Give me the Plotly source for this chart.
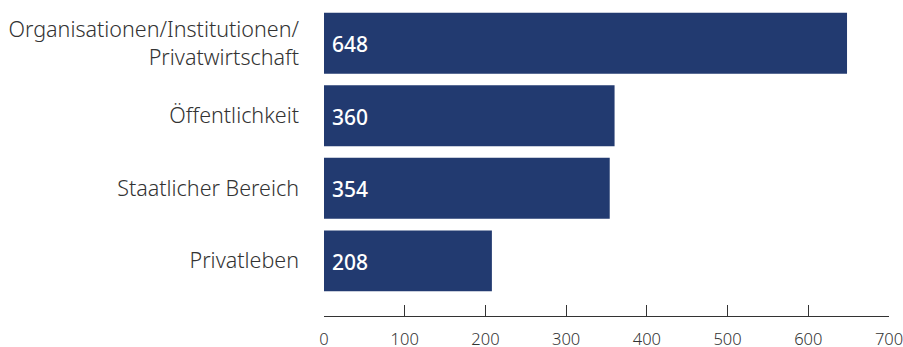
import plotly.graph_objects as go

categories = ["Privatleben", "Staatlicher Bereich", "Öffentlichkeit",
              "Organisationen/Institutionen/<br>Privatwirtschaft"]
values = [208, 354, 360, 648]
tick_vals = [0, 100, 200, 300, 400, 500, 600, 700]
tick_text = ["0", "100", "200", "300", "400", "500", "600", "700"]

bar_color = "#223a70"
text_color = "#333333"
label_font = "'Noto Sans', sans-serif"

fig = go.Figure(go.Bar(
    x=values,
    y=categories,
    orientation="h",
    marker=dict(color=bar_color, line=dict(width=0)),
    hoverinfo="x+y",
))

for cat, val in zip(categories, values):
    fig.add_annotation(
        x=0, y=cat, xref="x", yref="y",
        text=str(val), showarrow=False,
        xanchor="left", yanchor="middle", xshift=6, yshift=-1,
        font=dict(color="white", size=21, family=label_font, weight=500),
    )

fig.update_layout(
    width=903, height=347,
    margin=dict(l=324, r=14, t=7, b=31, autoexpand=False),
    paper_bgcolor="white", plot_bgcolor="white",
    bargap=0.16,
    showlegend=False,
    font=dict(family=label_font, color=text_color),
    xaxis=dict(
        range=[0, 700],
        tickvals=tick_vals, ticktext=tick_text,
        ticks="inside", ticklen=11, tickcolor=text_color, tickwidth=1,
        showline=True, linecolor=text_color, linewidth=1,
        showgrid=False, zeroline=False,
        tickfont=dict(size=16.5, color=text_color, weight=300),
        ticklabelstandoff=8,
        ticklabeloverflow="allow",
        automargin=False,
        fixedrange=True,
    ),
    yaxis=dict(
        range=[-0.76, 3.5],
        showline=False, showgrid=False, zeroline=False,
        ticks="", ticklabelstandoff=24,
        tickfont=dict(size=21.5, color=text_color, weight=300),
        automargin=False,
        fixedrange=True,
    ),
)

fig.write_html("out.html", config={"displayModeBar": False},
               post_script="document.body.style.margin='0';")
